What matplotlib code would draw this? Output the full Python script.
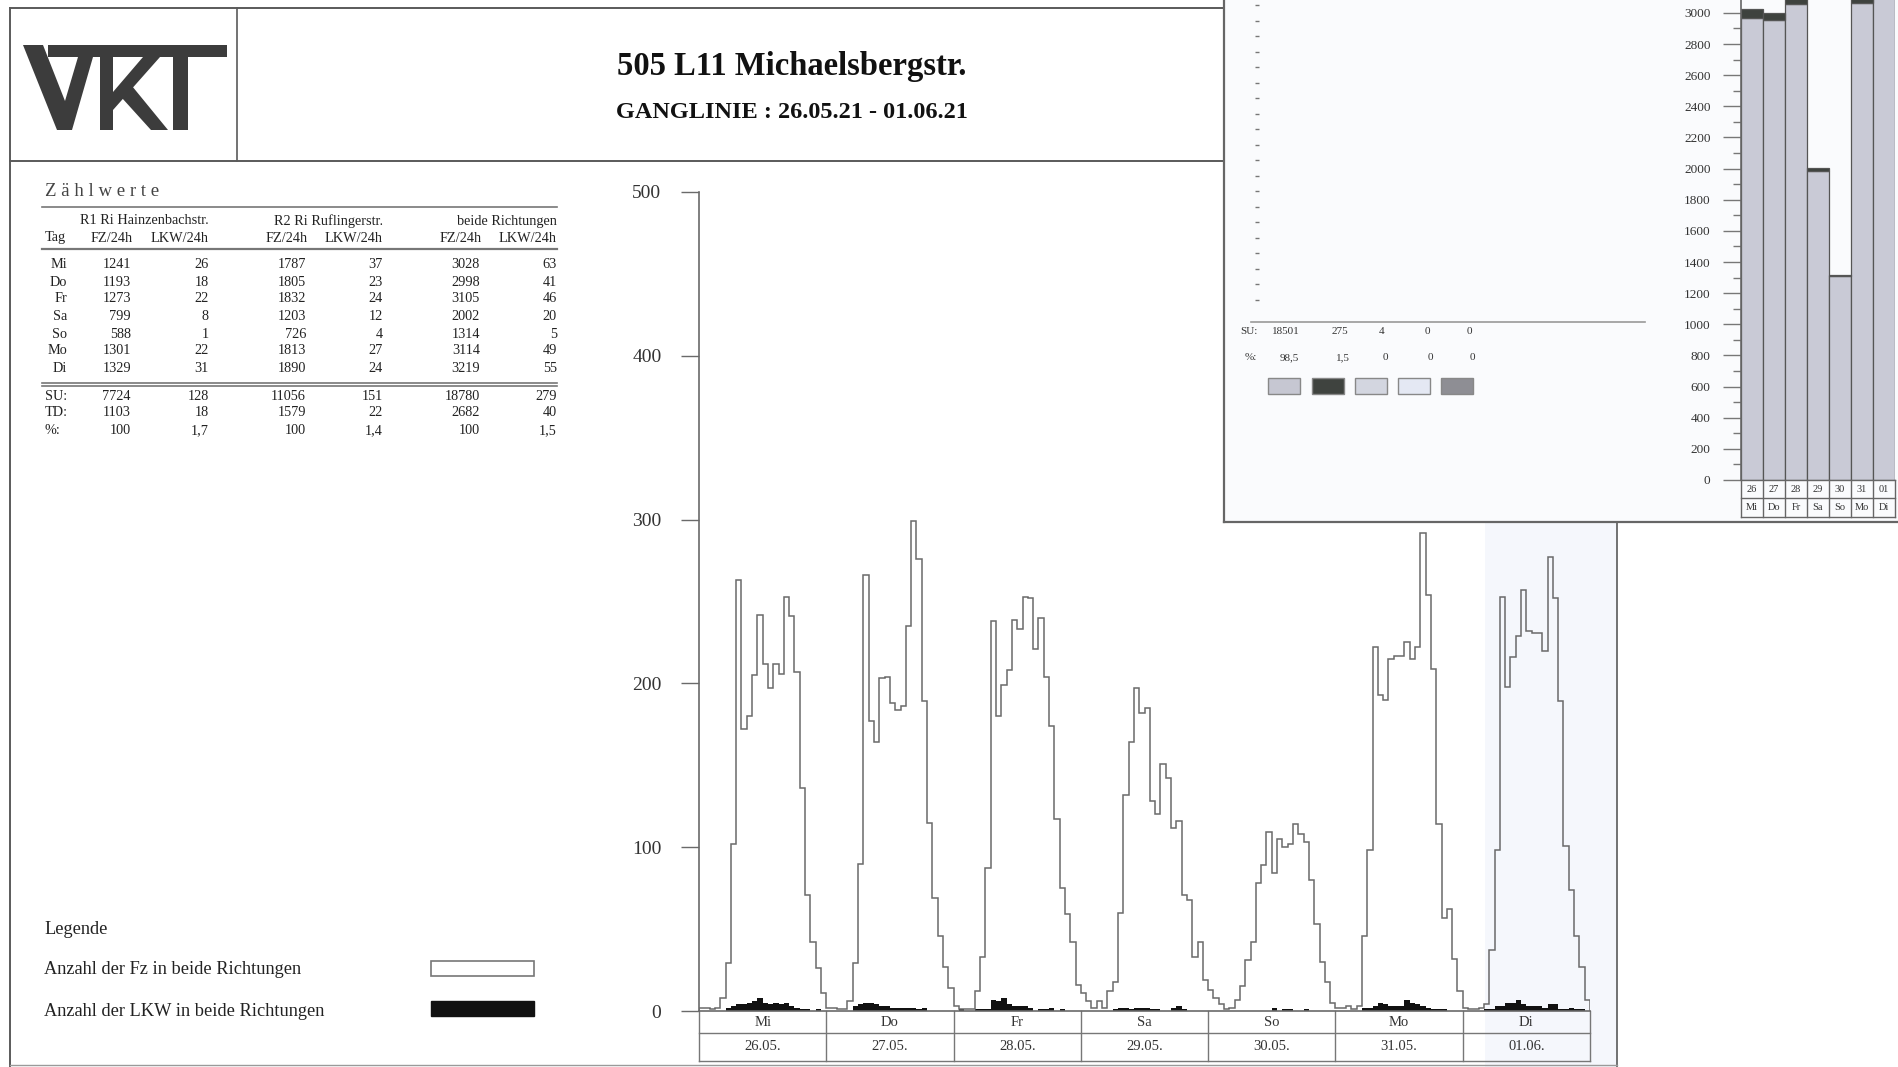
import numpy as np
import matplotlib
matplotlib.use("Agg")
import matplotlib.pyplot as plt
from matplotlib.patches import Rectangle, Polygon

plt.rcParams["font.family"] = ["Liberation Serif", "DejaVu Serif"]

# ---------------------------------------------------------------------------
# data
# ---------------------------------------------------------------------------
days = ["Mi", "Do", "Fr", "Sa", "So", "Mo", "Di"]
dates = ["26.05.", "27.05.", "28.05.", "29.05.", "30.05.", "31.05.", "01.06."]
dates_short = ["26", "27", "28", "29", "30", "31", "01"]

# hourly counts, all vehicles, both directions
fz_mi = [2, 2, 1, 2, 8, 29, 102, 263, 172, 180, 205, 242, 212, 197, 212, 206, 253, 241, 207, 136, 71, 42, 26, 11]
fz_do = [2, 2, 1, 1, 6, 29, 90, 266, 177, 164, 203, 204, 188, 184, 186, 235, 299, 276, 189, 115, 69, 46, 27, 14]
fz_fr = [3, 1, 1, 1, 12, 33, 87, 238, 180, 199, 208, 239, 233, 253, 252, 221, 240, 204, 174, 117, 75, 59, 42, 16]
fz_sa = [11, 6, 2, 6, 2, 12, 18, 60, 132, 164, 197, 182, 185, 128, 120, 151, 142, 112, 116, 71, 68, 33, 42, 19]
fz_so = [13, 8, 4, 1, 2, 7, 15, 31, 42, 78, 89, 109, 84, 105, 100, 102, 114, 108, 103, 80, 53, 30, 18, 5]
fz_mo = [2, 2, 3, 1, 3, 46, 98, 222, 193, 190, 215, 217, 217, 225, 215, 222, 292, 254, 209, 114, 57, 62, 32, 12]
fz_di = [2, 1, 1, 2, 4, 37, 98, 253, 198, 216, 229, 257, 232, 231, 231, 220, 277, 252, 189, 101, 74, 46, 27, 7]

# hourly trucks (LKW), both directions
lkw_mi = [0, 0, 0, 0, 0, 2, 3, 4, 4, 5, 6, 8, 5, 4, 5, 4, 5, 3, 2, 1, 1, 0, 1, 0]
lkw_do = [0, 0, 0, 0, 0, 3, 4, 5, 5, 4, 3, 3, 2, 2, 2, 2, 2, 1, 2, 0, 0, 0, 0, 0]
lkw_fr = [0, 1, 0, 0, 1, 1, 1, 7, 6, 8, 4, 3, 3, 3, 2, 0, 1, 1, 2, 0, 1, 0, 0, 0]
lkw_sa = [0, 0, 0, 0, 0, 0, 1, 2, 2, 1, 2, 2, 2, 1, 1, 0, 0, 2, 3, 1, 0, 0, 0, 0]
lkw_so = [0, 0, 0, 0, 0, 0, 0, 0, 0, 0, 0, 0, 2, 0, 1, 1, 0, 0, 1, 0, 0, 0, 0, 0]
lkw_mo = [0, 0, 0, 0, 0, 2, 2, 3, 5, 4, 3, 3, 3, 7, 5, 4, 3, 2, 1, 1, 1, 0, 0, 0]
lkw_di = [0, 0, 0, 0, 1, 1, 3, 3, 5, 5, 7, 4, 3, 3, 3, 2, 4, 4, 1, 1, 2, 1, 1, 0]

# Zählwerte table
r1_fz = [1241, 1193, 1273, 799, 588, 1301, 1329]
r1_lkw = [26, 18, 22, 8, 1, 22, 31]
r2_fz = [1787, 1805, 1832, 1203, 726, 1813, 1890]
r2_lkw = [37, 23, 24, 12, 4, 27, 24]
both_fz = [3028, 2998, 3105, 2002, 1314, 3114, 3219]
both_lkw = [63, 41, 46, 20, 5, 49, 55]
su_row = ["7724", "128", "11056", "151", "18780", "279"]
td_row = ["1103", "18", "1579", "22", "2682", "40"]
pct_row = ["100", "1,7", "100", "1,4", "100", "1,5"]

# inset summary
inset_su = ["18501", "275", "4", "0", "0"]
inset_pct = ["98,5", "1,5", "0", "0", "0"]
swatch_colors = ["#c6c7d2", "#3f433f", "#d3d6e0", "#e4e8f3", "#8e8e94"]

# ---------------------------------------------------------------------------
# layout helpers (pixel coords of the 1899x1067 page)
# ---------------------------------------------------------------------------
W, H = 1899, 1067
LINE = "#5a5a5a"
TXT = "#222222"


def frac(x0, y0, x1, y1):
    return [x0 / W, 1 - y1 / H, (x1 - x0) / W, (y1 - y0) / H]


fig = plt.figure(figsize=(W / 100, H / 100), dpi=100)
fig.patch.set_facecolor("white")

bg = fig.add_axes([0, 0, 1, 1], zorder=0)
bg.set_xlim(0, W)
bg.set_ylim(H, 0)
bg.axis("off")

# page frame
bg.plot([10, 1224], [8, 8], color=LINE, lw=1.4)
bg.plot([10, 10], [8, H], color=LINE, lw=1.4)
bg.plot([10, 1224], [161, 161], color=LINE, lw=1.4)
bg.plot([237, 237], [8, 161], color=LINE, lw=1.2)
bg.plot([1617, 1617], [522, H], color=LINE, lw=1.2)
bg.plot([10, 1617], [1065, 1065], color="#9a9a9a", lw=1.0)

# faint scanner tint near the right edge
bg.add_patch(Rectangle((1485, 522), 132, 545, facecolor="#f5f7fc", edgecolor="none"))

# logo
LOGO = "#3c3c3c"
bg.add_patch(Rectangle((48, 45), 179, 12, facecolor=LOGO, edgecolor="none"))
bg.add_patch(Polygon([(23, 45), (43, 45), (65, 101), (78, 57), (93, 57), (72, 130), (57, 130)],
                     closed=True, facecolor=LOGO, edgecolor="none"))
bg.add_patch(Rectangle((100, 57), 13, 73, facecolor=LOGO, edgecolor="none"))
bg.add_patch(Polygon([(113, 92), (143, 57), (160, 57), (113, 110)],
                     closed=True, facecolor=LOGO, edgecolor="none"))
bg.add_patch(Polygon([(122, 98), (132, 86), (168, 130), (151, 130)],
                     closed=True, facecolor=LOGO, edgecolor="none"))
bg.add_patch(Rectangle((173, 57), 15, 73, facecolor=LOGO, edgecolor="none"))

# titles
bg.text(792, 66, "505 L11 Michaelsbergstr.", ha="center", va="center",
        fontsize=23.5, fontweight="bold", color="#111")
bg.text(792, 112, "GANGLINIE : 26.05.21 - 01.06.21", ha="center", va="center",
        fontsize=17.5, fontweight="bold", color="#111")

# ---------------------------------------------------------------------------
# Zählwerte table
# ---------------------------------------------------------------------------
bg.text(45, 191, "Z ä h l w e r t e", ha="left", va="center", fontsize=13.5, color="#444")
bg.plot([42, 557], [207, 207], color="#777", lw=1.2)
bg.plot([42, 557], [249, 249], color="#777", lw=1.6)
bg.plot([42, 557], [383, 383], color="#777", lw=1.2)
bg.plot([42, 557], [386, 386], color="#777", lw=1.2)

col_right = [131, 209, 306, 383, 480, 557]
fs_tab = 10.3
for xr, name in zip([209, 383, 557], ["R1 Ri Hainzenbachstr.", "R2 Ri Ruflingerstr.", "beide Richtungen"]):
    bg.text(xr, 221, name, ha="right", va="center", fontsize=fs_tab, color=TXT)
bg.text(45, 238, "Tag", ha="left", va="center", fontsize=fs_tab, color=TXT)
for i, xr in enumerate(col_right):
    bg.text(xr + (2 if i % 2 == 0 else 0), 238, "FZ/24h" if i % 2 == 0 else "LKW/24h",
            ha="right", va="center", fontsize=fs_tab, color=TXT)

row_y = [264, 282, 299, 317, 334, 351, 369]
cols = [r1_fz, r1_lkw, r2_fz, r2_lkw, both_fz, both_lkw]
for j, d in enumerate(days):
    bg.text(67, row_y[j], d, ha="right", va="center", fontsize=fs_tab, color=TXT)
    for c, xr in zip(cols, col_right):
        bg.text(xr, row_y[j], str(c[j]), ha="right", va="center", fontsize=fs_tab, color=TXT)

for y, lab, vals in [(396, "SU:", su_row), (413, "TD:", td_row), (431, "%:", pct_row)]:
    bg.text(45, y, lab, ha="left", va="center", fontsize=fs_tab, color=TXT)
    for v, xr in zip(vals, col_right):
        bg.text(xr, y, v, ha="right", va="center", fontsize=fs_tab, color=TXT)

# legend
bg.text(44, 929, "Legende", ha="left", va="center", fontsize=13.2, color=TXT)
bg.text(44, 970, "Anzahl der Fz in beide Richtungen", ha="left", va="center", fontsize=13.2, color=TXT)
bg.text(44, 1011, "Anzahl der LKW in beide Richtungen", ha="left", va="center", fontsize=13.2, color=TXT)
bg.add_patch(Rectangle((431, 961), 103, 15, facecolor="white", edgecolor="#777", lw=1.2))
bg.add_patch(Rectangle((431, 1001), 103, 15, facecolor="#111", edgecolor="#111", lw=1.0))

# ---------------------------------------------------------------------------
# main hourly chart
# ---------------------------------------------------------------------------
fz = np.concatenate([fz_mi, fz_do, fz_fr, fz_sa, fz_so, fz_mo, fz_di])
lkw = np.concatenate([lkw_mi, lkw_do, lkw_fr, lkw_sa, lkw_so, lkw_mo, lkw_di])
edges = np.arange(len(fz) + 1)

ax = fig.add_axes(frac(699, 192, 1590, 1011), zorder=1)
ax.patch.set_alpha(0)
ax.stairs(lkw, edges, baseline=0, fill=True, color="#111")
ax.stairs(fz, edges, baseline=0, color="#6a6a6a", lw=1.1)
ax.set_xlim(0, len(fz))
ax.set_ylim(0, 500)
for s in ["top", "right"]:
    ax.spines[s].set_visible(False)
for s in ["left", "bottom"]:
    ax.spines[s].set_color("#6a6a6a")
    ax.spines[s].set_linewidth(1.2)
ax.set_xticks([])
ax.set_yticks(np.arange(0, 501, 100))
ax.tick_params(axis="y", direction="out", length=13, width=1.0, color="#6a6a6a",
               pad=14, labelsize=14, labelcolor="#333")

# day / date strip below the x axis
tr = ax.get_xaxis_transform()
h1, h2 = 22 / 819, 50 / 819
ax.plot([0, len(fz)], [-h1, -h1], transform=tr, clip_on=False, color="#777", lw=1.0)
ax.plot([0, len(fz)], [-h2, -h2], transform=tr, clip_on=False, color="#777", lw=1.0)
for k in range(len(days) + 1):
    ax.plot([k * 24, k * 24], [0, -h2], transform=tr, clip_on=False, color="#777", lw=1.0)
for k, (d, dt) in enumerate(zip(days, dates)):
    ax.text(k * 24 + 12, -h1 / 2, d, transform=tr, ha="center", va="center",
            fontsize=10.5, color="#333")
    ax.text(k * 24 + 12, -(h1 + h2) / 2, dt, transform=tr, ha="center", va="center",
            fontsize=10.5, color="#333")

# ---------------------------------------------------------------------------
# inset (top right)
# ---------------------------------------------------------------------------
ov = fig.add_axes(frac(1224, 0, W, 522), zorder=2)
ov.set_xlim(1224, W)
ov.set_ylim(522, 0)
ov.set_facecolor("#fafbfd")
ov.set_xticks([])
ov.set_yticks([])
for s in ["top", "right"]:
    ov.spines[s].set_visible(False)
for s in ["left", "bottom"]:
    ov.spines[s].set_color("#666")
    ov.spines[s].set_linewidth(1.6)

dash_y = np.arange(5, 312, 15.5)
ov.plot(np.full_like(dash_y, 1257), dash_y, ls="none", marker="_", ms=3, color="#777")
ov.plot([1251, 1645], [322, 322], color="#999", lw=1.2)
ov.text(1240, 331, "SU:", ha="left", va="center", fontsize=8, color="#333")
ov.text(1245, 358, "%:", ha="left", va="center", fontsize=8, color="#333")
val_x = [1286, 1340, 1382, 1427, 1469]
for x, s, p in zip(val_x, inset_su, inset_pct):
    ov.text(x, 331, s, ha="center", va="center", fontsize=8, color="#333")
    ov.text(x + 3, 358, p, ha="center", va="center", fontsize=8, color="#333")
sw_x = [1268, 1312, 1355, 1398, 1441]
for x, c in zip(sw_x, swatch_colors):
    ov.add_patch(Rectangle((x, 378), 32, 16, facecolor=c, edgecolor="#888", lw=1.0))

# daily bars
ib = fig.add_axes(frac(1741, 0, 1895, 480), zorder=3)
ib.patch.set_alpha(0)
pkw = np.array(both_fz) - np.array(both_lkw)
xs = np.arange(len(days))
ib.bar(xs, pkw, width=1.0, color="#c9cad6", edgecolor="#555", lw=0.9)
ib.bar(xs, both_lkw, bottom=pkw, width=1.0, color="#3e423e", edgecolor="#555", lw=0.9)
ib.set_xlim(-0.5, len(days) - 0.5)
ib.set_ylim(0, 3083)
for s in ["top", "right", "bottom"]:
    ib.spines[s].set_visible(False)
ib.spines["left"].set_color("#666")
ib.spines["left"].set_linewidth(1.2)
ib.set_xticks([])
ib.set_yticks(np.arange(0, 3001, 200))
ib.set_yticks(np.arange(100, 3001, 200), minor=True)
ib.tick_params(axis="y", which="major", direction="out", length=13, width=1.0,
               color="#777", pad=9, labelsize=9.5, labelcolor="#333")
ib.tick_params(axis="y", which="minor", direction="out", length=6, width=1.0, color="#777")

tr2 = ib.get_xaxis_transform()
g1, g2 = 18 / 480, 37 / 480
for yy in [0, -g1, -g2]:
    ib.plot([-0.5, len(days) - 0.5], [yy, yy], transform=tr2, clip_on=False, color="#666", lw=1.0)
for k in range(len(days) + 1):
    ib.plot([k - 0.5, k - 0.5], [0, -g2], transform=tr2, clip_on=False, color="#666", lw=1.0)
for k, (d, ds) in enumerate(zip(days, dates_short)):
    ib.text(k, -g1 / 2, ds, transform=tr2, ha="center", va="center", fontsize=7.5, color="#333")
    ib.text(k, -(g1 + g2) / 2, d, transform=tr2, ha="center", va="center", fontsize=7.5, color="#333")

fig.savefig("out.png", dpi=100)
